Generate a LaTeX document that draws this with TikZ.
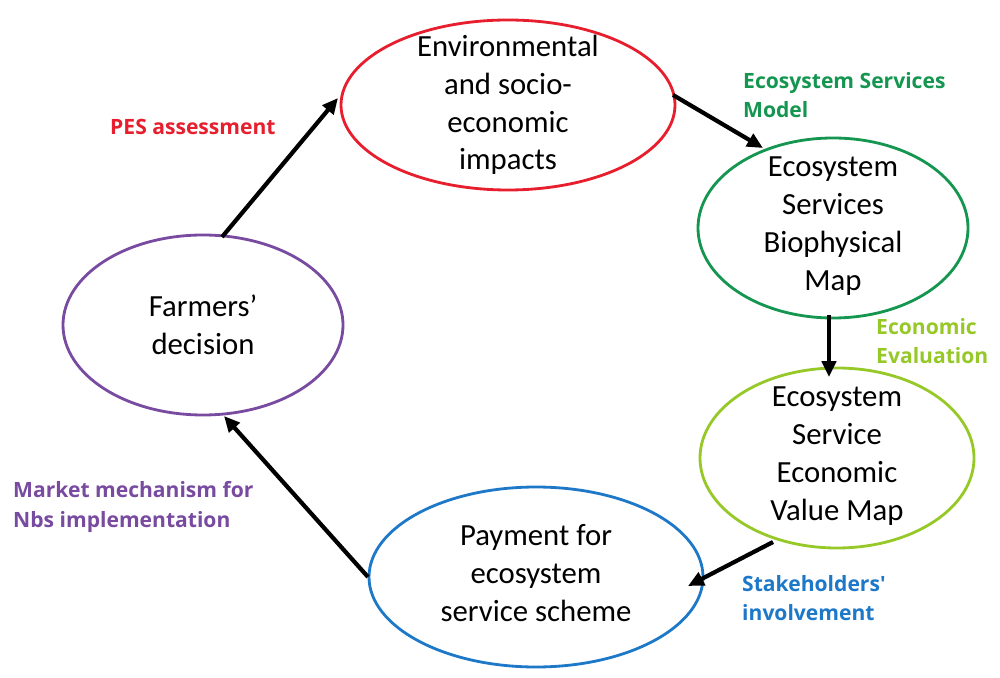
\documentclass[tikz,border=0pt]{standalone}
\usepackage{fontspec}
\setmainfont{Carlito}
\newfontfamily\labfont{Open Sans}
\usetikzlibrary{shapes.geometric,arrows.meta}
\definecolor{cred}{RGB}{230,30,45}
\definecolor{cgreen}{RGB}{20,150,80}
\definecolor{clgreen}{RGB}{150,200,40}
\definecolor{cblue}{RGB}{30,120,200}
\definecolor{cpurple}{RGB}{120,75,160}
\begin{document}
\begin{tikzpicture}[x=0.02cm,y=-0.02cm,
  ell/.style={ellipse,line width=1.6pt,inner sep=0pt,font=\fontsize{17.5}{21.5}\selectfont,align=center},
  lab/.style={font=\labfont\bfseries\fontsize{12}{16.8}\selectfont,align=left,anchor=west},
  arr/.style={-{Triangle[length=9pt,width=8pt]},line width=2.4pt}]
\useasboundingbox (0,0) rectangle (1000,678);
\draw[cred,line width=1.6pt] (508,105) ellipse [x radius=167,y radius=85];
\node[ell] (env) at (508,105) {Environmental\\and socio-\\economic\\impacts};
\draw[cgreen,line width=1.6pt] (833,228) ellipse [x radius=135,y radius=90];
\node[ell] (bio) at (833,226) {Ecosystem\\Services\\Biophysical\\Map};
\draw[clgreen,line width=1.6pt] (837,458) ellipse [x radius=137,y radius=90];
\node[ell] (eco) at (837,456) {Ecosystem\\Service\\Economic\\Value Map};
\draw[cblue,line width=1.6pt] (536,577) ellipse [x radius=167,y radius=90];
\node[ell] (pay) at (536,573) {Payment for\\ecosystem\\service scheme};
\draw[cpurple,line width=1.6pt] (203,325) ellipse [x radius=140,y radius=90];
\node[ell] (far) at (203,325) {Farmers'\\decision};
\coordinate (a1) at (222,237); \coordinate (a2) at (338,98);
\coordinate (b1) at (673,95); \coordinate (b2) at (763,148);
\coordinate (c1) at (829,315); \coordinate (c2) at (829,377);
\coordinate (d1) at (773,542); \coordinate (d2) at (688,586);
\coordinate (e1) at (368,577); \coordinate (e2) at (224,416);
\draw[arr] (a1) -- (a2);
\draw[arr] (b1) -- (b2);
\draw[arr] (c1) -- (c2);
\draw[arr] (d1) -- (d2);
\draw[arr] (e1) -- (e2);
\node[lab,text=cred] (l1) at (104,127) {PES assessment};
\node[lab,text=cgreen] (l2) at (737,95) {Ecosystem Services\\Model};
\node[lab,text=clgreen] (l3) at (870,341) {Economic\\Evaluation};
\node[lab,text=cblue] (l4) at (736,598) {Stakeholders{\textquotesingle}\\involvement};
\node[lab,text=cpurple] (l5) at (7,507) {Market mechanism for\\Nbs implementation};
\end{tikzpicture}
\end{document}
